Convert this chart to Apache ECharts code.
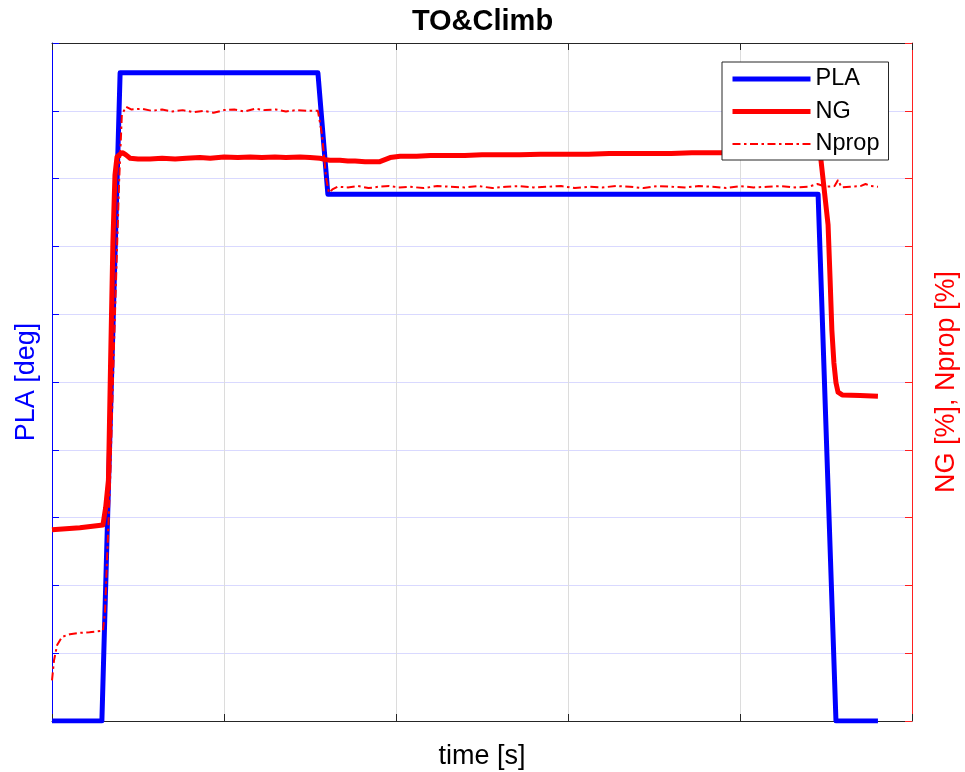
<!DOCTYPE html>
<html>
<head>
<meta charset="utf-8">
<script src="https://cdn.jsdelivr.net/npm/echarts@6/dist/echarts.min.js"></script>
<style>
  html, body { margin: 0; padding: 0; background: #fff; overflow: hidden; }
  #chart { width: 965px; height: 772px; }
</style>
</head>
<body>
<div id="chart"></div>
<script>
// Throttle lever angle, time [s] / angle [deg]
const plaTime  = [0, 14.5, 19.8, 77.3, 80.2, 222.7, 227.9, 240.1];
const plaValue = [0, 0, 95.6, 95.6, 77.7, 77.7, 0, 0];

// Gas generator speed NG [%]
const ngTime = [0, 8.1, 14.8, 15.6, 16.4, 17.0, 17.7, 18.3, 18.9, 19.8, 20.6, 21.5, 22.7, 25, 28.5, 32, 35.8, 39, 43, 46, 50, 54, 57.6, 61, 64.8, 68, 72.1, 75, 77.9, 79.5, 80.8, 83.7, 86, 88.1, 91, 93.9, 95.3, 96.8, 98.3, 101.2, 106, 110, 115.7, 120, 125, 130.2, 136, 142, 150.6, 156, 162, 168, 173.8, 180, 186, 194.2, 200, 206, 212, 218, 222.4, 223.5, 225.6, 226.2, 226.7, 227.3, 227.9, 228.5, 229.7, 234.9, 240.1];
const ngValue = [28.2, 28.5, 28.9, 31.5, 35.5, 52, 70.5, 80.5, 83.2, 83.6, 83.8, 83.5, 83.0, 82.9, 82.9, 83.0, 82.9, 83.0, 83.1, 83.0, 83.2, 83.1, 83.2, 83.1, 83.2, 83.1, 83.2, 83.1, 83.0, 82.8, 82.7, 82.7, 82.6, 82.6, 82.5, 82.5, 82.5, 82.8, 83.1, 83.3, 83.3, 83.4, 83.4, 83.4, 83.5, 83.5, 83.5, 83.6, 83.6, 83.6, 83.7, 83.7, 83.7, 83.7, 83.8, 83.8, 83.8, 83.9, 83.9, 83.9, 83.9, 82.9, 73.2, 65.0, 57.7, 52.8, 49.9, 48.5, 48.1, 48.0, 47.9];

// Propeller speed Nprop [%]
const npTime = [0, 0.6, 1.5, 2.9, 5.2, 8.1, 10.9, 14.8, 15.4, 16.9, 18.0, 19.5, 20.3, 21.5, 23, 26, 29, 32, 35, 38, 41, 44, 47, 50, 53, 56, 59, 62, 65, 68, 71, 74, 77.3, 78.5, 79.7, 80.5, 81.5, 83, 86, 89, 92, 95, 98, 101, 104, 108, 112, 116, 120, 124, 128, 132, 136, 140, 144, 148, 152, 156, 160, 164, 168, 172, 176, 180, 184, 188, 192, 196, 200, 204, 208, 212, 216, 220, 222.5, 225, 227.5, 228.5, 229.5, 232, 235, 236.5, 238, 240.1];
const npValue = [6.0, 9.0, 11.2, 12.4, 12.8, 13.0, 13.1, 13.3, 16.0, 35.5, 55.0, 79.4, 89.4, 90.6, 90.2, 90.3, 90.0, 90.2, 89.9, 90.1, 89.8, 90.0, 89.7, 90.1, 90.2, 89.9, 90.3, 90.1, 90.2, 89.9, 90.1, 90.0, 90.0, 86.5, 80.0, 77.9, 78.4, 78.8, 78.7, 78.9, 78.6, 78.8, 78.9, 78.7, 78.8, 78.6, 78.9, 78.8, 78.7, 78.9, 78.6, 78.8, 78.9, 78.7, 78.8, 78.9, 78.6, 78.8, 78.7, 78.9, 78.8, 78.6, 78.9, 78.8, 78.7, 78.9, 78.8, 78.6, 78.9, 78.7, 78.8, 78.9, 78.7, 78.8, 79.2, 78.8, 78.9, 79.8, 78.7, 78.8, 78.9, 79.2, 78.9, 78.8];

const timeAxis = { min: 0, max: 250, interval: 50 };
const leftAxis = { min: 0, max: 100, interval: 10 };
const rightAxis = { min: 0, max: 100, interval: 10 };

const zip = (xs, ys) => xs.map((x, i) => [x, ys[i]]);

const FONT = '"Liberation Sans", Arial, Helvetica, sans-serif';
const DASH_DOT = [8, 3.5, 2.5, 3.5];
const hiddenMarker = { color: 'rgba(0,0,0,0)', borderWidth: 0, opacity: 0 };
const chart = echarts.init(document.getElementById('chart'), null, { renderer: 'canvas' });

chart.setOption({
  animation: false,
  backgroundColor: '#ffffff',
  title: {
    text: 'TO&Climb',
    left: 'center',
    top: 2,
    textStyle: { fontFamily: FONT, fontSize: 29, fontWeight: 'bold', color: '#000' }
  },
  legend: {
    orient: 'vertical',
    left: 722,
    top: 62,
    padding: [5, 9, 4, 8],
    backgroundColor: '#ffffff',
    borderColor: '#262626',
    borderWidth: 1,
    borderRadius: 0,
    itemWidth: 78,
    itemHeight: 20,
    itemGap: 8.5,
    textStyle: { fontFamily: FONT, fontSize: 23.5, color: '#000' },
    data: [
      { name: 'PLA', itemStyle: hiddenMarker, lineStyle: { width: 5, color: '#0000ff' } },
      { name: 'NG', itemStyle: hiddenMarker, lineStyle: { width: 5, color: '#ff0000' } },
      { name: 'Nprop', itemStyle: hiddenMarker, lineStyle: { width: 2, color: '#ff0000', type: DASH_DOT } }
    ]
  },
  grid: { left: 52, right: 53, top: 43, bottom: 51, containLabel: false, outerBoundsMode: 'none' },
  xAxis: [
    {
      type: 'value', position: 'bottom', ...timeAxis,
      name: 'time [s]', nameLocation: 'middle', nameGap: 22,
      nameTextStyle: { fontFamily: FONT, fontSize: 27, color: '#000' },
      axisLine: { show: true, onZero: false, lineStyle: { color: '#262626', width: 1 } },
      axisTick: { show: true, inside: true, length: 7, lineStyle: { color: '#262626' } },
      axisLabel: { show: false },
      splitLine: { show: true, lineStyle: { color: '#dcdcdc', width: 1 } }
    },
    {
      type: 'value', position: 'top', ...timeAxis,
      axisLine: { show: true, onZero: false, lineStyle: { color: '#262626', width: 1 } },
      axisTick: { show: true, inside: true, length: 7, lineStyle: { color: '#262626' } },
      axisLabel: { show: false },
      splitLine: { show: false }
    }
  ],
  yAxis: [
    {
      type: 'value', position: 'left', ...leftAxis,
      name: 'PLA [deg]', nameLocation: 'middle', nameGap: 12,
      nameTextStyle: { fontFamily: FONT, fontSize: 27, color: '#0000ff' },
      axisLine: { show: true, onZero: false, lineStyle: { color: '#0000ff', width: 1 } },
      axisTick: { show: true, inside: true, length: 7, lineStyle: { color: '#0000ff' } },
      axisLabel: { show: false },
      splitLine: { show: true, lineStyle: { color: '#d9d9ff', width: 1 } }
    },
    {
      type: 'value', position: 'right', ...rightAxis,
      name: 'NG [%], Nprop [%]', nameLocation: 'middle', nameGap: 21, nameRotate: 90,
      nameTextStyle: { fontFamily: FONT, fontSize: 27, color: '#ff0000' },
      axisLine: { show: true, onZero: false, lineStyle: { color: '#ff2020', width: 1 } },
      axisTick: { show: true, inside: true, length: 7, lineStyle: { color: '#ff2020' } },
      axisLabel: { show: false },
      splitLine: { show: false }
    }
  ],
  series: [
    {
      name: 'PLA', type: 'line', xAxisIndex: 0, yAxisIndex: 0,
      data: zip(plaTime, plaValue), symbol: 'none',
      lineStyle: { color: '#0000ff', width: 5, join: 'round', cap: 'butt' },
      itemStyle: { color: '#0000ff' }, z: 2
    },
    {
      name: 'NG', type: 'line', xAxisIndex: 0, yAxisIndex: 1,
      data: zip(ngTime, ngValue), symbol: 'none',
      lineStyle: { color: '#ff0000', width: 5, join: 'round' },
      itemStyle: { color: '#ff0000' }, z: 3
    },
    {
      name: 'Nprop', type: 'line', xAxisIndex: 0, yAxisIndex: 1,
      data: zip(npTime, npValue), symbol: 'none',
      lineStyle: { color: '#ff0000', width: 2, type: DASH_DOT },
      itemStyle: { color: '#ff0000' }, z: 4
    }
  ]
});
</script>
</body>
</html>
